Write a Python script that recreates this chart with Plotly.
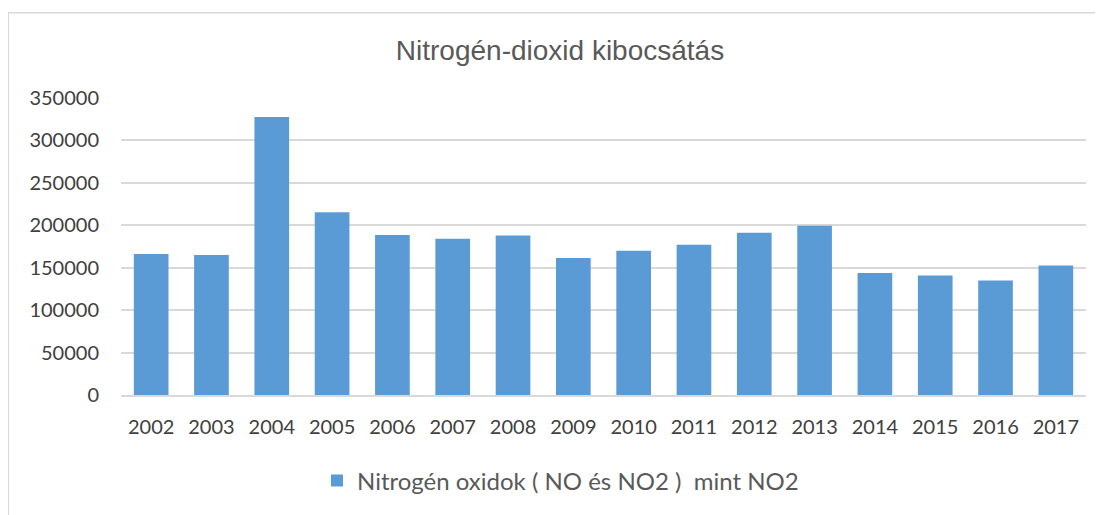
import plotly.graph_objects as go

years = ["2002", "2003", "2004", "2005", "2006", "2007", "2008", "2009",
         "2010", "2011", "2012", "2013", "2014", "2015", "2016", "2017"]
nox_values = [166200, 165000, 327700, 215500, 188500, 184100, 188100, 161500,
              170100, 177100, 191200, 199400, 143900, 140700, 134900, 152500]
y_ticks = [0, 50000, 100000, 150000, 200000, 250000, 300000, 350000]
series_name = "Nitrogén oxidok ( NO és NO2 )\u00a0 mint NO2"
title_text = "Nitrogén-dioxid kibocsátás"

# the page body has an 8px margin, so the figure is 8px smaller than the window
W, H = 1095, 507
label_font = dict(family="Lato, Open Sans, sans-serif", size=20, color="#404040")

fig = go.Figure()
fig.add_trace(go.Bar(
    x=years, y=nox_values, name=series_name,
    marker=dict(color="#5B9BD5", line=dict(width=0)),
    showlegend=True,
))

fig.update_layout(
    width=W, height=H,
    margin=dict(l=113, r=17, t=90, b=118),
    paper_bgcolor="white", plot_bgcolor="white",
    bargap=0.425,
    title=dict(text=title_text, x=552 / W, xref="container", xanchor="center",
               y=1 - 42 / H, yref="container", yanchor="middle",
               font=dict(family="Liberation Sans, Arial, sans-serif", size=28, color="#595959")),
    xaxis=dict(showgrid=False, showline=True, linecolor="#D9D9D9", linewidth=1.5,
               tickfont=label_font, ticks="", ticklabelstandoff=13),
    yaxis=dict(range=[0, 350000], tickvals=y_ticks, tickformat="d",
               showgrid=True, gridcolor="#D9D9D9", gridwidth=1.5,
               zeroline=False, showline=False, tickfont=label_font, ticks="",
               ticklabelstandoff=21),
    legend=dict(orientation="h", x=0.2031, xanchor="left", y=-0.2892, yanchor="middle",
                font=dict(family="Lato, Open Sans, sans-serif", size=24, color="#595959")),
    shapes=[dict(type="rect", xref="paper", yref="paper",
                 x0=-0.1168, x1=1.3, y0=-1, y1=1.2869,
                 line=dict(color="#D9D9D9", width=1.5), layer="below")],
)

fig.write_html("out.html")
